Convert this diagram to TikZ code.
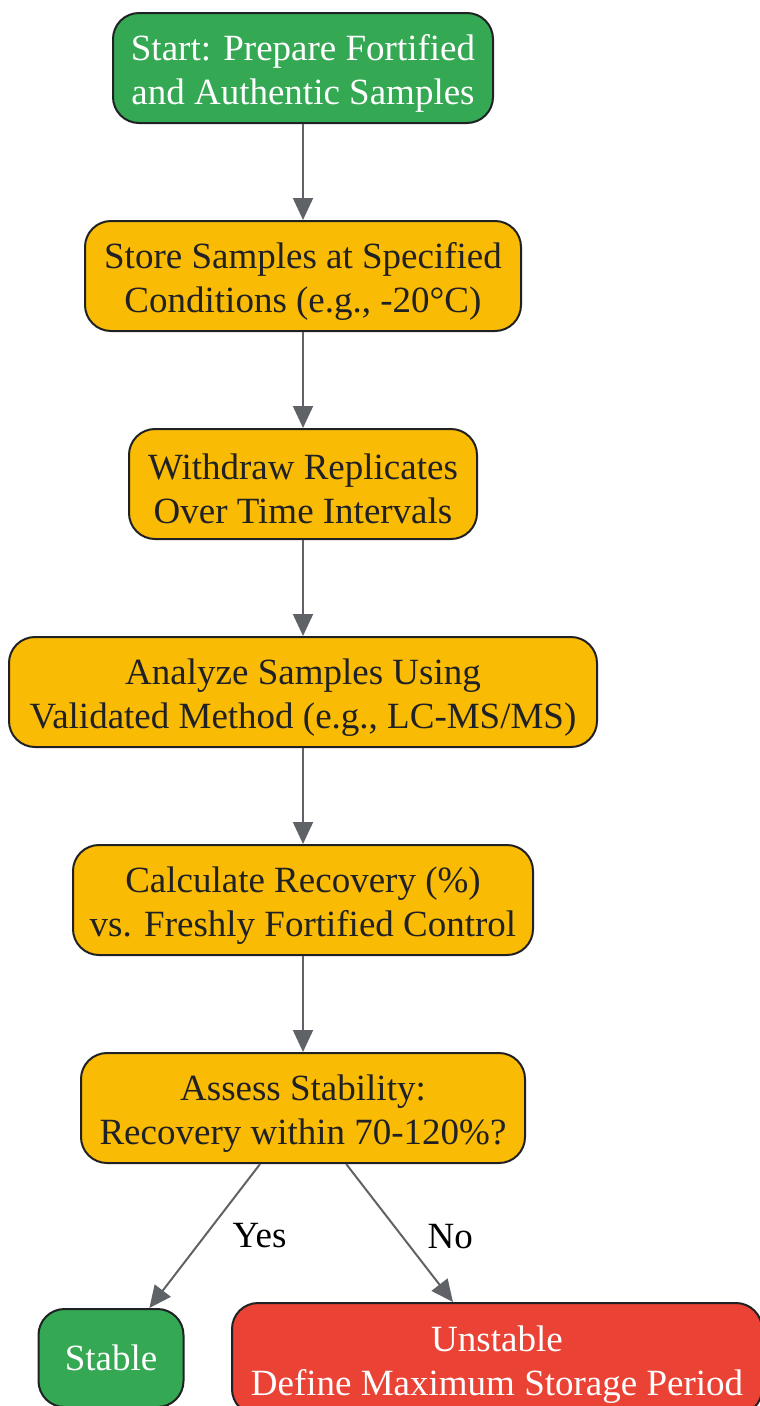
\documentclass[tikz,border=0pt]{standalone}
\usepackage{fontspec}
\setmainfont{Liberation Serif}
\usetikzlibrary{arrows.meta}
\definecolor{startgreen}{HTML}{34A853}
\definecolor{stepyellow}{HTML}{FABB05}
\definecolor{stopred}{HTML}{EA4335}
\definecolor{inkdark}{HTML}{202124}
\definecolor{flowgray}{HTML}{5F6368}
\tikzset{
  stepbox/.style={draw=inkdark, line width=2pt, rounded corners=26pt,
    fill=stepyellow, text=inkdark, align=center, inner xsep=8pt,
    minimum height=110pt, font=\fontsize{37}{44}\selectfont,
    text height=80pt},
  greenbox/.style={stepbox, fill=startgreen, text=white},
  redbox/.style={stepbox, fill=stopred, text=white},
  flow/.style={draw=flowgray, line width=2pt,
    -{Triangle[length=22pt,width=20pt]}},
  edgelabel/.style={inner sep=0pt, text=black, font=\fontsize{37}{44}\selectfont}
}
\begin{document}
\begin{tikzpicture}[x=1pt,y=-1pt]
  \useasboundingbox (0,0) rectangle (760,1406);
  \draw
    (303,68) node[greenbox, minimum width=380pt] (start){Start: Prepare Fortified\\and Authentic Samples}
    (303,276) node[stepbox, minimum width=436pt] (store){Store Samples at Specified\\Conditions (e.g., -20°C)}
    (303,484) node[stepbox, minimum width=348pt] (withdraw){Withdraw Replicates\\Over Time Intervals}
    (303,692) node[stepbox, minimum width=588pt] (analyze){Analyze Samples Using\\Validated Method (e.g., LC-MS/MS)}
    (303,900) node[stepbox, minimum width=460pt] (calc){Calculate Recovery (\%)\\vs. Freshly Fortified Control}
    (303,1108) node[stepbox, minimum width=444pt] (assess){Assess Stability:\\Recovery within 70-120\%?}
    (111,1358) node[greenbox, minimum width=145pt, minimum height=98pt, text height={}] (stable){Stable}
    (497,1359) node[redbox, minimum width=530pt, minimum height=112pt] (unstable){Unstable\\Define Maximum Storage Period};
  \begin{scope}[flow]
    \draw (start) to (store);
    \draw (store) to (withdraw);
    \draw (withdraw) to (analyze);
    \draw (analyze) to (calc);
    \draw (calc) to (assess);
    \draw (assess) to node[edgelabel, midway, anchor=west, xshift=27pt] (yes){Yes} (stable);
    \draw (assess) to node[edgelabel, midway, anchor=west, xshift=27pt, yshift=-4pt] (no){No} (unstable);
  \end{scope}
\end{tikzpicture}
\end{document}
